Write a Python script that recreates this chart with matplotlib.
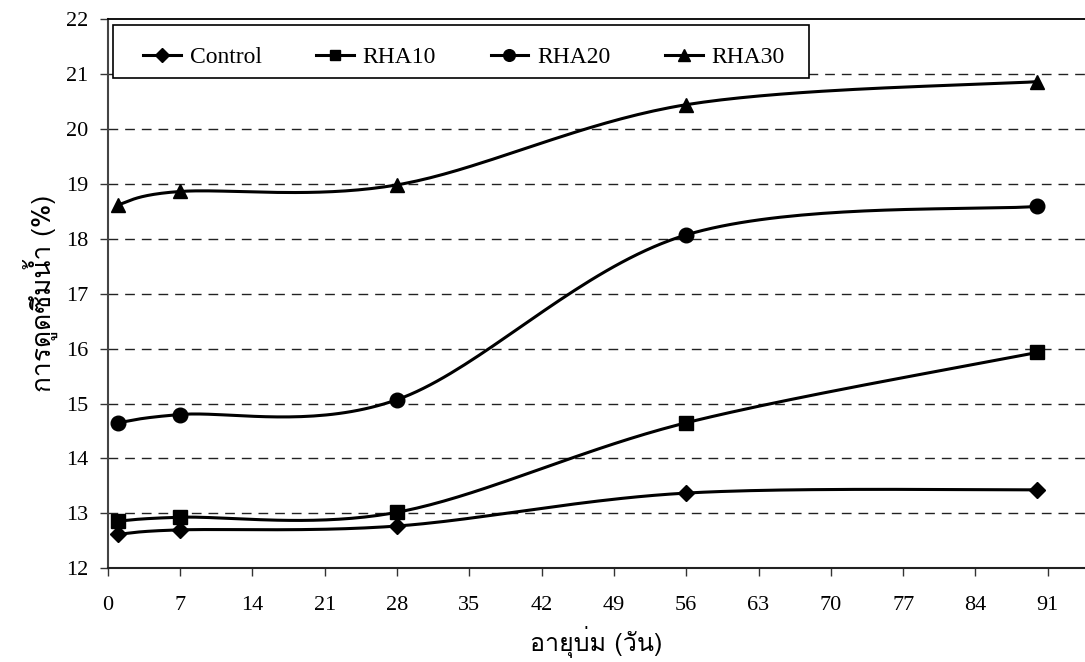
import numpy as np
from matplotlib import pyplot as plt
from matplotlib import font_manager
from matplotlib.ft2font import FT2Font
from matplotlib.lines import Line2D
from matplotlib.patches import Rectangle

# curing age (days) and water absorption (%)
days = [1, 7, 28, 56, 90]
control = [12.62, 12.70, 12.77, 13.37, 13.43]
rha10 = [12.86, 12.93, 13.02, 14.65, 15.93]
rha20 = [14.65, 14.80, 15.07, 18.07, 18.59]
rha30 = [18.62, 18.86, 18.98, 20.44, 20.86]

series_names = ['Control', 'RHA10', 'RHA20', 'RHA30']
xticks = list(range(0, 92, 7))
yticks = list(range(12, 23))


def thai_family():
    # first installed family that carries Thai glyphs
    for f in font_manager.fontManager.ttflist:
        try:
            if 0x0E01 in FT2Font(f.fname).get_charmap():
                return f.name
        except Exception:
            pass
    return 'DejaVu Sans'


SX, SY = 10.33, 55.0  # px per data unit, for screen-space smoothing


def smooth(x, y, n=40):
    """Excel style smoothed line: Bezier segments with Catmull-Rom tangents."""
    p = np.column_stack([np.asarray(x, float) * SX, np.asarray(y, float) * SY])
    out = []
    t = np.linspace(0, 1, n)[:, None]
    for i in range(len(p) - 1):
        p0 = p[max(i - 1, 0)]
        p1, p2 = p[i], p[i + 1]
        p3 = p[min(i + 2, len(p) - 1)]
        c1 = p1 + (p2 - p0) / 6
        c2 = p2 - (p3 - p1) / 6
        seg = (1 - t)**3 * p1 + 3 * (1 - t)**2 * t * c1 + 3 * (1 - t) * t**2 * c2 + t**3 * p2
        out.append(seg if i == 0 else seg[1:])
    out = np.vstack(out)
    return out[:, 0] / SX, out[:, 1] / SY


thai = thai_family()
plt.rcParams['font.family'] = ['Liberation Serif', 'DejaVu Serif']

fig = plt.figure(figsize=(10.85, 6.62), dpi=100)
ax = fig.add_axes([0.0993, 0.1415, 0.9007, 0.8298])

styles = [('D', 8.5), ('s', 9.5), ('o', 10.5), ('^', 10.5)]
handles = []
for vals, (mk, ms), name in zip([control, rha10, rha20, rha30], styles, series_names):
    xs, ys = smooth(days, vals)
    ax.plot(xs, ys, color='black', lw=2.2, zorder=3, solid_capstyle='round')
    ax.plot(days, vals, ls='none', marker=mk, ms=ms, color='black', zorder=4)
    handles.append(Line2D([], [], color='black', lw=2.2, marker=mk, ms=ms * 0.8, label=name))

ax.set_xlim(0, 94.6)
ax.set_ylim(12, 22)
ax.set_xticks(xticks)
ax.set_yticks(yticks)
ax.tick_params(direction='out', length=6, width=1, labelsize=16, color='#333333')
ax.tick_params(axis='y', pad=8)
ax.tick_params(axis='x', pad=14)

for y in yticks[1:-1]:
    ax.axhline(y, color='#222222', lw=1, ls=(0, (7, 5)), zorder=1)

ax.spines['right'].set_visible(False)
ax.spines['top'].set_linewidth(1.3)
ax.spines['left'].set_color('#444444')
ax.spines['left'].set_linewidth(1.5)
ax.spines['bottom'].set_linewidth(1.5)
ax.spines['bottom'].set_color('#222222')

ax.set_xlabel('อายุบ่ม (วัน)', family=[thai, 'DejaVu Sans'], fontsize=18, labelpad=8)
ax.set_ylabel('การดูดซึมน้ำ (%)', family=[thai, 'DejaVu Sans'], fontsize=19, labelpad=6)

# legend box drawn separately so its size is fixed
ax.add_patch(Rectangle((0.0054, 0.8926), 0.7122, 0.0964, transform=ax.transAxes,
                       facecolor='white', edgecolor='black', lw=1.2, zorder=5, clip_on=False))
leg = ax.legend(handles=handles, ncol=4, loc='center left',
                bbox_to_anchor=(0.0361, 0.9308), borderaxespad=0, borderpad=0,
                fontsize=17, frameon=False, handlelength=1.6, handletextpad=0.38,
                columnspacing=2.3)
leg.set_zorder(6)

plt.savefig('out.png', dpi=100)
